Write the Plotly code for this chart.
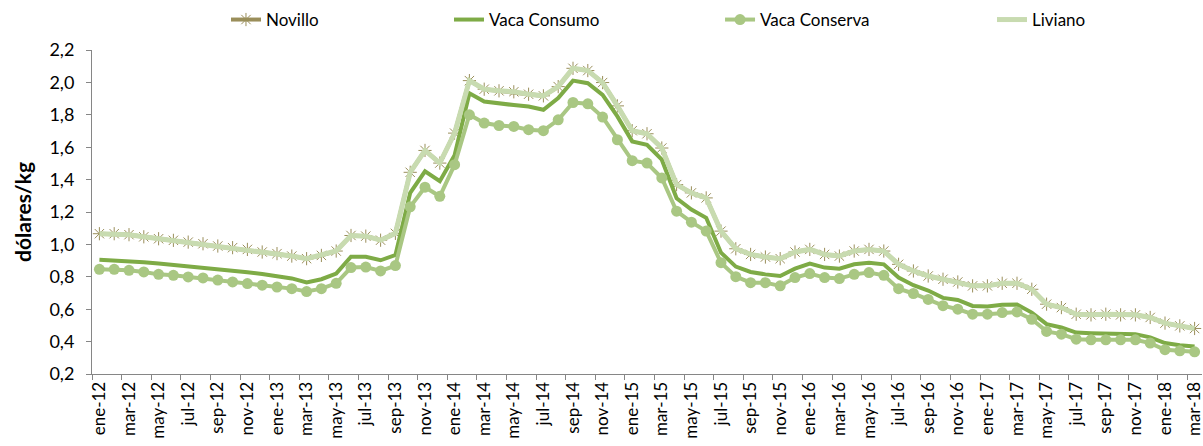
import plotly.graph_objects as go

month_abbr = ["ene", "feb", "mar", "abr", "may", "jun", "jul", "ago", "sep", "oct", "nov", "dic"]
years = ["12", "13", "14", "15", "16", "17", "18"]
months = [f"{m}-{y}" for y in years for m in month_abbr][:75]  # ene-12 .. mar-18

novillo = [
    1.066, 1.066, 1.060, 1.047, 1.035, 1.025, 1.014, 1.004, 0.990, 0.980,
    0.969, 0.953, 0.943, 0.928, 0.912, 0.932, 0.959, 1.055, 1.051, 1.026,
    1.068, 1.445, 1.580, 1.502, 1.687, 2.011, 1.958, 1.948, 1.942, 1.927,
    1.917, 1.974, 2.087, 2.073, 1.999, 1.855, 1.702, 1.683, 1.595, 1.369,
    1.318, 1.287, 1.082, 0.973, 0.938, 0.922, 0.912, 0.953, 0.969, 0.938,
    0.928, 0.959, 0.969, 0.959, 0.877, 0.836, 0.805, 0.785, 0.768, 0.744,
    0.744, 0.760, 0.760, 0.723, 0.631, 0.610, 0.569, 0.565, 0.569, 0.565,
    0.565, 0.549, 0.514, 0.497, 0.481,
]

vaca_consumo = [
    0.905, 0.902, 0.898, 0.890, 0.882, 0.874, 0.866, 0.858, 0.848, 0.838,
    0.828, 0.817, 0.803, 0.790, 0.765, 0.785, 0.820, 0.924, 0.924, 0.902,
    0.934, 1.318, 1.451, 1.390, 1.550, 1.933, 1.882, 1.868, 1.860, 1.851,
    1.831, 1.903, 2.011, 1.995, 1.923, 1.790, 1.636, 1.615, 1.523, 1.285,
    1.215, 1.164, 0.949, 0.863, 0.830, 0.815, 0.805, 0.850, 0.881, 0.857,
    0.850, 0.877, 0.887, 0.877, 0.795, 0.748, 0.715, 0.670, 0.657, 0.620,
    0.617, 0.627, 0.629, 0.579, 0.508, 0.487, 0.456, 0.452, 0.452, 0.448,
    0.446, 0.426, 0.391, 0.378, 0.370,
]

vaca_conserva = [
    0.846, 0.846, 0.840, 0.830, 0.815, 0.809, 0.799, 0.793, 0.780, 0.768,
    0.758, 0.748, 0.737, 0.727, 0.709, 0.727, 0.760, 0.857, 0.860, 0.836,
    0.869, 1.232, 1.353, 1.297, 1.492, 1.800, 1.749, 1.734, 1.728, 1.708,
    1.702, 1.769, 1.876, 1.868, 1.786, 1.646, 1.517, 1.502, 1.410, 1.205,
    1.137, 1.082, 0.887, 0.801, 0.764, 0.764, 0.744, 0.795, 0.820, 0.795,
    0.789, 0.815, 0.826, 0.809, 0.727, 0.697, 0.660, 0.622, 0.600, 0.569,
    0.569, 0.579, 0.583, 0.538, 0.463, 0.446, 0.415, 0.411, 0.411, 0.411,
    0.411, 0.391, 0.350, 0.343, 0.337,
]

liviano = [
    1.066, 1.066, 1.060, 1.047, 1.035, 1.025, 1.014, 1.004, 0.990, 0.980,
    0.969, 0.953, 0.943, 0.928, 0.912, 0.932, 0.959, 1.055, 1.051, 1.026,
    1.068, 1.445, 1.580, 1.502, 1.687, 2.011, 1.958, 1.948, 1.942, 1.927,
    1.917, 1.974, 2.087, 2.073, 1.999, 1.855, 1.702, 1.683, 1.595, 1.369,
    1.318, 1.287, 1.082, 0.973, 0.938, 0.922, 0.912, 0.953, 0.969, 0.938,
    0.928, 0.959, 0.969, 0.959, 0.877, 0.836, 0.805, 0.785, 0.768, 0.744,
    0.744, 0.760, 0.760, 0.723, 0.631, 0.610, 0.569, 0.565, 0.569, 0.565,
    0.565, 0.549, 0.514, 0.497, 0.481,
]

C_NOV = "#9A8E5A"
C_CONS = "#7EAB46"
C_CONSV = "#A9C783"
C_LIV = "#C8DBB0"
FONT = "Lato"

fig = go.Figure()
fig.add_trace(go.Scatter(
    x=months, y=novillo, name="Novillo", mode="lines+markers",
    line=dict(color=C_NOV, width=4),
    marker=dict(symbol="asterisk-open", size=11, color=C_NOV, line=dict(color=C_NOV, width=1)),
    legend="legend", showlegend=True,
))
fig.add_trace(go.Scatter(
    x=months, y=vaca_consumo, name="Vaca Consumo", mode="lines",
    line=dict(color=C_CONS, width=4),
    legend="legend2", showlegend=True,
))
fig.add_trace(go.Scatter(
    x=months, y=vaca_conserva, name="Vaca Conserva", mode="lines+markers",
    line=dict(color=C_CONSV, width=4),
    marker=dict(symbol="circle", size=11, color=C_CONSV),
    legend="legend3", showlegend=True,
))
fig.add_trace(go.Scatter(
    x=months, y=liviano, name="Liviano", mode="lines",
    line=dict(color=C_LIV, width=5),
    legend="legend4", showlegend=True,
))

leg_common = dict(orientation="h", yanchor="middle", y=1.0926, xanchor="left",
                  font=dict(family=FONT, size=17, color="#000000"),
                  bgcolor="rgba(0,0,0,0)", borderwidth=0, visible=True)

fig.update_layout(
    width=1203, height=446,
    margin=dict(l=92, r=1, t=50, b=72, autoexpand=False),
    paper_bgcolor="white", plot_bgcolor="white",
    separators=",.",
    showlegend=True,
    font=dict(family=FONT, size=16, color="#000000"),
    legend=dict(x=0.1207, **leg_common),
    legend2=dict(x=0.3216, **leg_common),
    legend3=dict(x=0.5658, **leg_common),
    legend4=dict(x=0.8108, **leg_common),
    xaxis=dict(
        type="category", tickmode="linear", tick0=0, dtick=2,
        tickson="boundaries", ticks="outside", ticklen=5, tickcolor="#868686",
        showline=True, linecolor="#868686", linewidth=1,
        showgrid=False, zeroline=False, tickangle=-90, automargin=False,
        tickfont=dict(family=FONT, size=17, color="#000000"),
        range=[-0.5, 74.5],
    ),
    yaxis=dict(
        range=[0.2, 2.2], tickmode="linear", tick0=0.2, dtick=0.2, tickformat=".1f",
        ticks="outside", ticklen=5, tickcolor="#868686",
        showline=True, linecolor="#868686", linewidth=1,
        showgrid=False, zeroline=False, automargin=False,
        ticklabelstandoff=8,
        tickfont=dict(family=FONT, size=18, color="#000000"),
        title=dict(text="<b>dólares/kg</b>", font=dict(family=FONT, size=21, color="#000000"), standoff=12),
    ),
)

fig.write_html("out.html", config={"displayModeBar": False},
               post_script="document.body.style.margin='0';")
